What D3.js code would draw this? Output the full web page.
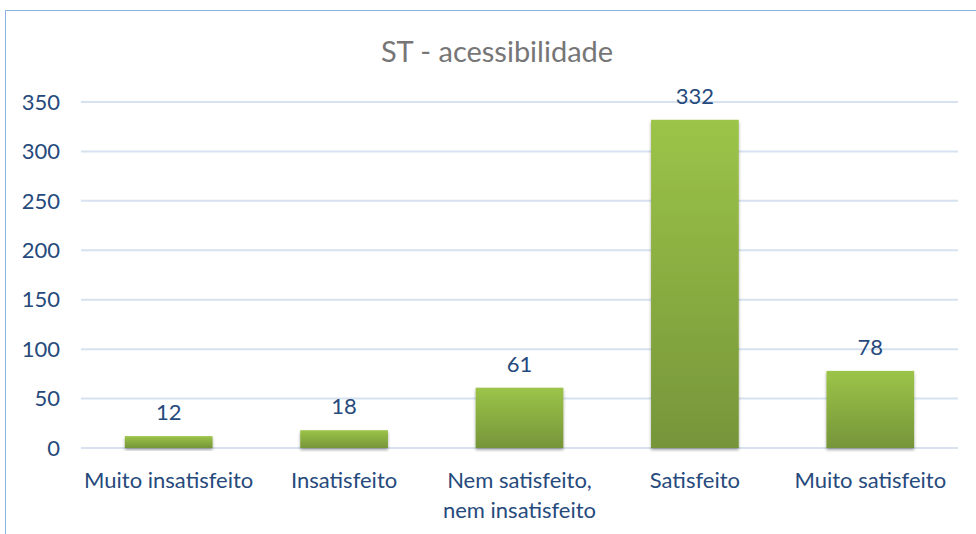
<!DOCTYPE html>
<html><head><meta charset="utf-8">
<script src="https://cdn.jsdelivr.net/npm/d3@7"></script>
<style>body{margin:0;background:#fff}svg{display:block}</style>
</head><body>
<svg id="c" width="976" height="534"></svg>
<script>
const categories = [["Muito insatisfeito"], ["Insatisfeito"], ["Nem satisfeito,", "nem insatisfeito"], ["Satisfeito"], ["Muito satisfeito"]];
const values = [12, 18, 61, 332, 78];
const yTicks = [0, 50, 100, 150, 200, 250, 300, 350];
const title = "ST - acessibilidade";

const svg = d3.select("#c");
const font = "Lato, 'Open Sans', sans-serif";
const txt = "#264a7c";

svg.append("rect").attr("x", 5.5).attr("y", 10.5).attr("width", 975).attr("height", 540)
  .attr("fill", "#fff").attr("stroke", "#8db4e2").attr("stroke-width", 1);

const defs = svg.append("defs");
const g = defs.append("linearGradient").attr("id", "bg").attr("x1", 0).attr("y1", 0).attr("x2", 0).attr("y2", 1);
g.append("stop").attr("offset", "0%").attr("stop-color", "#9cc448");
g.append("stop").attr("offset", "100%").attr("stop-color", "#76953a");
const f = defs.append("filter").attr("id", "sh").attr("x", "-10%").attr("y", "-10%").attr("width", "120%").attr("height", "130%");
f.append("feDropShadow").attr("dx", 0).attr("dy", 2).attr("stdDeviation", 1.5).attr("flood-color", "#000").attr("flood-opacity", 0.35);

const x = d3.scaleBand().domain(categories.map((d, i) => i)).range([81, 958]).paddingInner(0.5).paddingOuter(0.25);
const y = d3.scaleLinear().domain([0, 350]).range([448, 102]);

svg.append("text").attr("x", 497).attr("y", 62).attr("text-anchor", "middle")
  .attr("font-family", font).attr("font-size", 29).attr("fill", "#767676").text(title);

svg.append("g").selectAll("line").data(yTicks).join("line")
  .attr("x1", 81).attr("x2", 958).attr("y1", d => y(d)).attr("y2", d => y(d))
  .attr("stroke", "#d6e2f0").attr("stroke-width", 2);

svg.append("g").selectAll("text").data(yTicks).join("text")
  .attr("x", 60).attr("y", d => y(d)).attr("dy", "0.35em").attr("text-anchor", "end")
  .attr("font-family", font).attr("font-size", 22).attr("fill", txt).text(d => d);

svg.append("g").selectAll("rect").data(values).join("rect")
  .attr("x", (d, i) => x(i)).attr("width", x.bandwidth())
  .attr("y", d => y(d)).attr("height", d => y(0) - y(d))
  .attr("fill", "url(#bg)").attr("filter", "url(#sh)");

svg.append("g").selectAll("text").data(values).join("text")
  .attr("x", (d, i) => x(i) + x.bandwidth() / 2).attr("y", d => y(d) - 16)
  .attr("text-anchor", "middle").attr("font-family", font).attr("font-size", 22).attr("fill", txt).text(d => d);

const xl = svg.append("g").selectAll("text").data(categories).join("text")
  .attr("x", (d, i) => x(i) + x.bandwidth() / 2).attr("y", 488)
  .attr("text-anchor", "middle").attr("font-family", font).attr("font-size", 22).attr("fill", txt);
xl.selectAll("tspan").data(d => d).join("tspan")
  .attr("x", function () { return this.parentNode.getAttribute("x"); })
  .attr("dy", (d, i) => i === 0 ? 0 : 30).text(d => d);
</script>
</body></html>
